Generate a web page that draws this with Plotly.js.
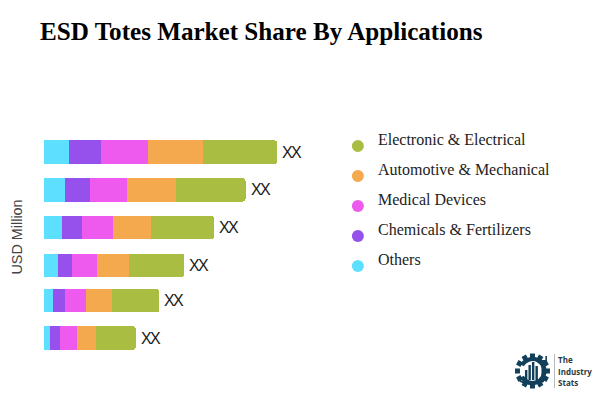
<!DOCTYPE html>
<html>
<head>
<meta charset="utf-8">
<script src="https://cdn.plot.ly/plotly-3.0.1.min.js"></script>
<style>
html,body{margin:0;padding:0;background:#fff}
#chart{width:600px;height:400px}
</style>
</head>
<body>
<div id="chart"></div>
<script>
const chartTitle = 'ESD Totes Market Share By Applications';
const yTitle = 'USD Million';
const rows = [4.955, 3.952, 2.941, 1.939, 0.995, 0];
const others = [25, 21.4, 18.4, 13.7, 9, 6];
const chemicals = [32.4, 24.3, 20, 14.7, 12, 9.7];
const medical = [46.6, 37, 31, 25, 20.7, 17.3];
const automotive = [54.7, 49, 37.3, 31.3, 26, 19];
const electronic = [74.3, 69.7, 63, 55.7, 47.7, 39.7];
const barLabels = ['XX', 'XX', 'XX', 'XX', 'XX', 'XX'];
const seriesNames = ['Others', 'Chemicals & Fertilizers', 'Medical Devices', 'Automotive & Mechanical', 'Electronic & Electrical'];
const seriesValues = [others, chemicals, medical, automotive, electronic];
const seriesColors = ['#5ddfff', '#9650ec', '#ee5aee', '#f5a94f', '#a8bd42'];
const logoWords = ['The', 'Industry', 'Stats'];

const totals = rows.map((_, i) => seriesValues.reduce((s, v) => s + v[i], 0));

const traces = seriesNames.map((name, k) => ({
  type: 'bar', orientation: 'h', name,
  x: seriesValues[k], y: rows,
  width: 0.627,
  marker: {color: seriesColors[k], line: {width: 0}},
  hoverinfo: 'x+name'
}));

const L = 44.3, PW = 555.7, T = 120, PH = 234;
const px = x => (x - L) / PW;
const py = y => (T + PH - y) / PH;
const shapes = [], annotations = [];

rows.forEach((r, i) => {
  annotations.push({xref: 'x', yref: 'y', x: totals[i], y: r, showarrow: false,
    xanchor: 'left', yanchor: 'middle', xshift: 3, yshift: 0,
    text: '<span style="letter-spacing:-1.6px">' + barLabels[i] + '</span>',
    font: {family: 'Liberation Sans, Arial, sans-serif', size: 16, color: '#1a1a1a'}});
});

const legendOrder = [4, 3, 2, 1, 0];
legendOrder.forEach((k, i) => {
  const cy = 146 + i * 30, cx = 358, r = 6;
  shapes.push({type: 'circle', xref: 'paper', yref: 'paper',
    x0: px(cx - r), x1: px(cx + r), y0: py(cy + r), y1: py(cy - r),
    fillcolor: seriesColors[k], line: {width: 0}});
  annotations.push({xref: 'paper', yref: 'paper', showarrow: false,
    x: px(376), y: py(139 + i * 30),
    xanchor: 'left', yanchor: 'middle', text: seriesNames[k].replace('&', '&amp;'),
    font: {family: 'Liberation Serif, Times New Roman, serif', size: 16, color: '#222'}});
});
logoWords.forEach((w, i) => {
  annotations.push({xref: 'paper', yref: 'paper', showarrow: false,
    x: px(556), y: py(359.5 + i * 11.5),
    xanchor: 'left', yanchor: 'middle', text: '<b>' + w + '</b>',
    font: {family: 'Open Sans, sans-serif', size: 8, color: '#2b3a44'}});
});

let teeth = '';
for (let a = 0; a < 360; a += 30) {
  teeth += `<rect x='15' y='0.5' width='5' height='5' fill='#123f59' transform='rotate(${a} 17.5 18)'/>`;
}
const logoSvg = `<svg xmlns='http://www.w3.org/2000/svg' width='42' height='38' viewBox='0 0 42 38'>
${teeth}
<circle cx='17.5' cy='18' r='12' fill='none' stroke='#123f59' stroke-width='4.2' stroke-dasharray='44 12' transform='rotate(-60 17.5 18)'/>
<rect x='10' y='17' width='2.4' height='10' fill='#123f59'/>
<rect x='13.5' y='12' width='2.4' height='15' fill='#123f59'/>
<rect x='17' y='9' width='2.4' height='18' fill='#123f59'/>
<rect x='20.5' y='13' width='2.4' height='14' fill='#123f59'/>
<path d='M24 3 v5 l2.5 2 v18 h3 v-18 l2.5 -2 v-5 l-1.6 0 v4 h-4.8 v-4 z' fill='#123f59'/>
<path d='M5 27 Q17 33 29 27 L29 29 Q17 35 5 29 z' fill='#123f59'/>
<rect x='39' y='1' width='1' height='34' fill='#b5b9bc'/>
</svg>`;

const layout = {
  width: 600, height: 400,
  paper_bgcolor: '#fff', plot_bgcolor: '#fff',
  margin: {l: L, r: 0, t: T, b: 46, pad: 0},
  barmode: 'stack', barcornerradius: 3, showlegend: false,
  title: {text: '<b>' + chartTitle + '</b>', xref: 'container', yref: 'container',
    x: 40 / 600, xanchor: 'left', y: 1 - 31 / 400, yanchor: 'middle',
    font: {family: 'Liberation Serif, Times New Roman, serif', size: 25.12, color: '#000'}},
  xaxis: {range: [0, PW], visible: false, fixedrange: true},
  yaxis: {range: [-0.4267, 5.813], showgrid: false, zeroline: false, showline: false,
    showticklabels: false, ticks: '', fixedrange: true,
    title: {text: yTitle, standoff: 16, font: {family: 'Liberation Sans, Arial, sans-serif', size: 14.4, color: '#444'}}},
  shapes, annotations,
  images: [{source: 'data:image/svg+xml;utf8,' + encodeURIComponent(logoSvg),
    xref: 'paper', yref: 'paper', x: px(515), y: py(353),
    sizex: 42 / PW, sizey: 38 / PH, xanchor: 'left', yanchor: 'top', layer: 'above'}]
};
Plotly.newPlot('chart', traces, layout, {displayModeBar: false, staticPlot: true});
</script>
</body>
</html>
